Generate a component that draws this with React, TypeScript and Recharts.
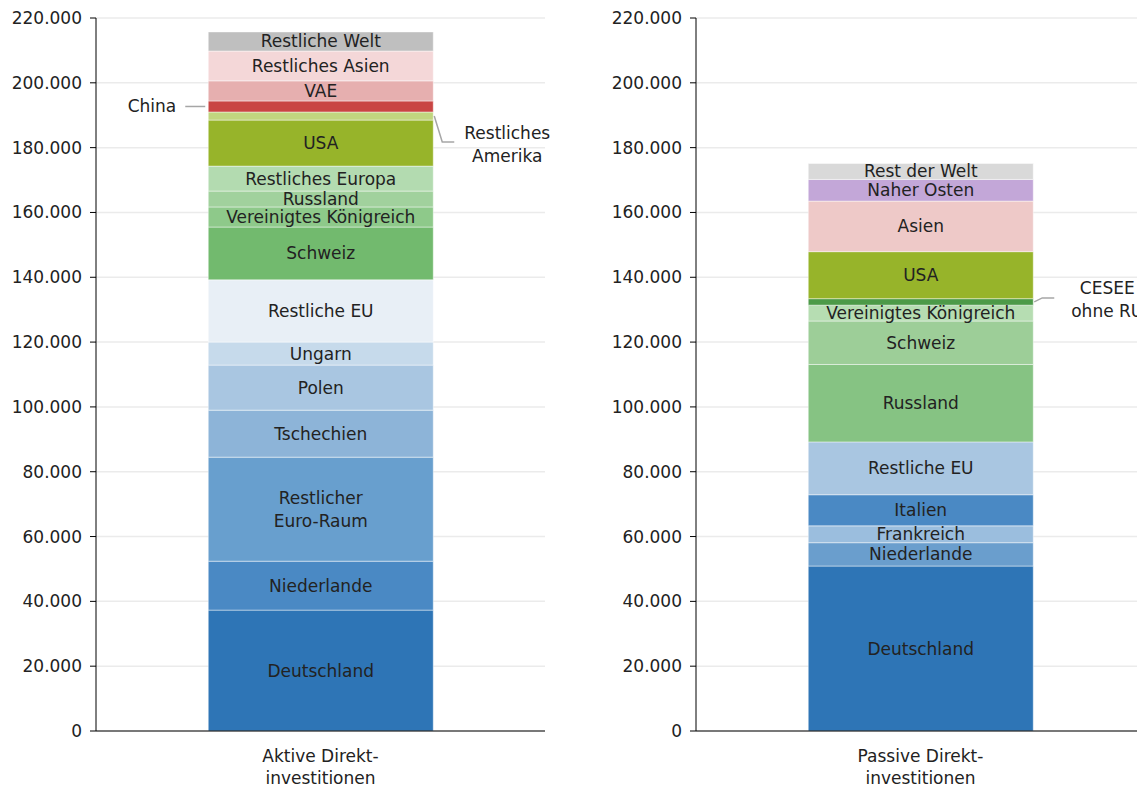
import React from 'react';
import { BarChart, Bar, XAxis, YAxis, CartesianGrid, LabelList } from 'recharts';

// Aktive Direktinvestitionen (von unten nach oben)
const activeNames = [
  'Deutschland', 'Niederlande', 'Restlicher\nEuro-Raum', 'Tschechien', 'Polen', 'Ungarn',
  'Restliche EU', 'Schweiz', 'Vereinigtes Königreich', 'Russland', 'Restliches Europa',
  'USA', 'Restliches\nAmerika', 'China', 'VAE', 'Restliches Asien', 'Restliche Welt'
];
const activeValues = [
  37300, 15100, 32100, 14500, 13900, 7100, 19200, 16300, 6200, 4900, 7700,
  14200, 2500, 3400, 6200, 9200, 5900
];
const activeColors = [
  '#2E75B6', '#4A89C4', '#689FCE', '#8DB4D8', '#A9C6E1', '#C6DAEB', '#E8EFF6',
  '#72BA6E', '#8EC98A', '#A1D19D', '#B3DBB0', '#97B42A', '#C1D67F', '#C94543',
  '#E6AFAF', '#F4D7D8', '#BFBFBF'
];

// Passive Direktinvestitionen
const passiveNames = [
  'Deutschland', 'Niederlande', 'Frankreich', 'Italien', 'Restliche EU', 'Russland',
  'Schweiz', 'Vereinigtes Königreich', 'CESEE\nohne RU', 'USA', 'Asien', 'Naher Osten',
  'Rest der Welt'
];
const passiveValues = [
  50900, 7200, 5200, 9600, 16300, 23900, 13400, 4900, 2000, 14500, 15600, 6700, 4900
];
const passiveColors = [
  '#2E75B6', '#6A9ECD', '#9BBEDE', '#4A89C4', '#A9C6E1', '#86C383', '#9DCE98',
  '#B6DDB2', '#4C9A48', '#97B42A', '#EEC9C8', '#C3A7D8', '#D9D9D9'
];

const yTicks = [0, 20000, 40000, 60000, 80000, 100000, 120000, 140000, 160000, 180000, 200000, 220000];

const FONT = '"DejaVu Sans", sans-serif';
const FS = 17;
const TEXT = '#222';
const LEADER = '#A6A6A6';

// Beschriftungen ausserhalb des Balkens
const LEFT_CALLOUTS = ['China'];
const RIGHT_CALLOUTS: Record<string, number> = { 'Restliches\nAmerika': 26, 'CESEE\nohne RU': -4 };

const fmt = (v: number) => String(v).replace(/\B(?=(\d{3})+(?!\d))/g, '.');

const makeLabel = (name: string) => (props: any) => {
  const x = Number(props.x), y = Number(props.y), w = Number(props.width), h = Number(props.height);
  const cx = x + w / 2;
  const cy = y + h / 2;
  const lines = name.split('\n');
  if (LEFT_CALLOUTS.includes(name)) {
    return (
      <g>
        <line x1={x - 23} y1={cy} x2={x - 3} y2={cy} stroke={LEADER} strokeWidth={1.5} />
        <text x={x - 32} y={cy} dy="0.35em" textAnchor="end" fontSize={FS} fontFamily={FONT} fill={TEXT}>{name}</text>
      </g>
    );
  }
  if (name in RIGHT_CALLOUTS) {
    const ey = cy + RIGHT_CALLOUTS[name];
    const rx = x + w;
    return (
      <g>
        <polyline points={`${rx + 1},${cy} ${rx + 9},${ey} ${rx + 21},${ey}`} fill="none" stroke={LEADER} strokeWidth={1.5} />
        <text x={rx + 74} y={ey + 2} textAnchor="middle" fontSize={FS} fontFamily={FONT} fill={TEXT}>
          {lines.map((l, i) => (
            <tspan key={i} x={rx + 74} dy={i === 0 ? -11.5 + 6 : 23}>{l}</tspan>
          ))}
        </text>
      </g>
    );
  }
  const start = -((lines.length - 1) * 23) / 2;
  return (
    <text x={cx} y={cy} textAnchor="middle" fontSize={FS} fontFamily={FONT} fill={TEXT}>
      {lines.map((l, i) => (
        <tspan key={i} x={cx} dy={i === 0 ? start + 6 : 23}>{l}</tspan>
      ))}
    </text>
  );
};

const CatTick = (props: any) => {
  const { x, y, payload } = props;
  const lines = String(payload.value).split('\n');
  return (
    <text x={x} y={y} textAnchor="middle" fontSize={FS} fontFamily={FONT} fill={TEXT}>
      {lines.map((l, i) => (
        <tspan key={i} x={x} dy={i === 0 ? 31 : 22}>{l}</tspan>
      ))}
    </text>
  );
};

const StackChart = ({ category, names, values, colors }: { category: string; names: string[]; values: number[]; colors: string[] }) => {
  const row: Record<string, any> = { cat: category };
  values.forEach((v, i) => { row[`s${i}`] = v; });
  return (
    <BarChart width={600} height={787} data={[row]} margin={{ top: 18, right: 55, bottom: 6, left: 0 }} barCategoryGap="25%">
      <CartesianGrid vertical={false} stroke="#EBEBEB" strokeWidth={1.5} />
      <XAxis dataKey="cat" axisLine={{ stroke: '#000' }} tickLine={false} tickSize={0} tickMargin={0} height={50} tick={<CatTick />} interval={0} />
      <YAxis
        width={96}
        domain={[0, 220000]}
        ticks={yTicks}
        interval={0}
        tickFormatter={fmt}
        axisLine={{ stroke: '#000' }}
        tickLine={{ stroke: '#000' }}
        tickSize={6}
        tickMargin={8}
        tick={{ fontSize: FS, fontFamily: FONT, fill: TEXT }}
      />
      {names.map((n, i) => (
        <Bar key={n} dataKey={`s${i}`} stackId="a" fill={colors[i]} stroke="rgba(255,255,255,0.45)" strokeWidth={1} isAnimationActive={false}>
          <LabelList dataKey={`s${i}`} content={makeLabel(n)} />
        </Bar>
      ))}
    </BarChart>
  );
};

export default function App() {
  return (
    <div style={{ position: 'absolute', left: 0, top: 0, width: 1137, height: 787, overflow: 'hidden', background: '#fff' }}>
      <div style={{ position: 'absolute', left: 0, top: 0 }}>
        <StackChart category={'Aktive Direkt-\ninvestitionen'} names={activeNames} values={activeValues} colors={activeColors} />
      </div>
      <div style={{ position: 'absolute', left: 600, top: 0 }}>
        <StackChart category={'Passive Direkt-\ninvestitionen'} names={passiveNames} values={passiveValues} colors={passiveColors} />
      </div>
    </div>
  );
}
